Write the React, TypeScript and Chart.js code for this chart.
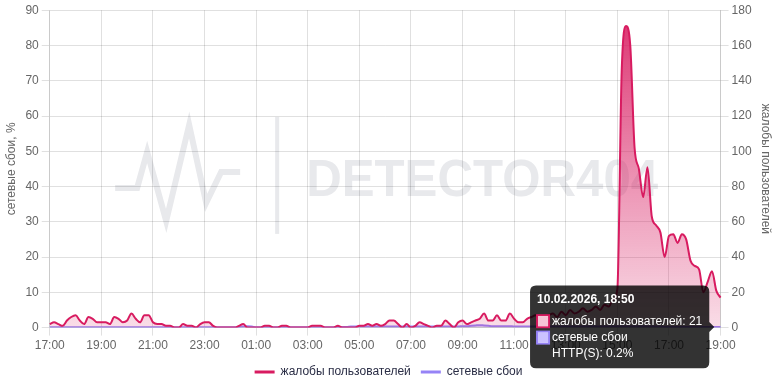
import React, { useEffect, useRef } from 'react';
import { Chart, registerables } from 'chart.js';

Chart.register(...registerables);

// ---- data ----
const START_UTC = Date.UTC(2026, 1, 9, 17, 0); // 09.02.2026 17:00
const STEP_MINUTES = 10;
const TICK_EVERY = 12; // one label every 2 hours

const SERIES_COMPLAINTS = 'жалобы пользователей';
const SERIES_NETWORK = 'сетевые сбои';
const LEFT_TITLE = 'сетевые сбои, %';
const RIGHT_TITLE = 'жалобы пользователей';
const NETWORK_PREFIX = 'HTTP(S)';

const LEFT_TICKS = [0, 10, 20, 30, 40, 50, 60, 70, 80, 90];
const RIGHT_TICKS = [0, 20, 40, 60, 80, 100, 120, 140, 160, 180];

const complaints = [
  2, 3, 2, 1, 4, 6, 7, 4, 2, 6,
  5, 3, 3, 3, 2, 6, 5, 3, 4, 8,
  5, 3, 7, 7, 3, 2, 2, 1, 1, 0,
  0, 2, 1, 1, 0, 2, 3, 3, 1, 0,
  0, 0, 0, 0, 1, 2, 0, 0, 0, 0,
  1, 1, 0, 0, 1, 1, 0, 0, 0, 0,
  0, 1, 1, 1, 0, 0, 0, 1, 0, 0,
  0, 0, 1, 1, 2, 1, 2, 1, 2, 4,
  4, 2, 0, 2, 0, 1, 3, 2, 1, 0,
  1, 1, 4, 2, 0, 3, 4, 2, 3, 4,
  5, 8, 4, 4, 7, 4, 4, 8, 5, 3,
  3, 5, 6, 7, 5, 6, 7, 8, 6, 9,
  7, 10, 8, 9, 11, 9, 10, 12, 10, 13,
  12, 16, 22, 145, 171, 160, 102, 90, 74, 91,
  63, 58, 54, 40, 52, 53, 48, 53, 50, 38,
  35, 33, 20, 26, 32, 21, 17,
];

const networkFailures = [
  0.1, 0.1, 0.1, 0.1, 0.1, 0.1, 0.1, 0.1, 0.1, 0.1,
  0.1, 0.1, 0.1, 0.1, 0.1, 0.1, 0.1, 0.1, 0.1, 0.1,
  0.1, 0.1, 0.1, 0.1, 0.1, 0.1, 0.1, 0.1, 0.1, 0.1,
  0.1, 0.1, 0.1, 0.1, 0.1, 0.1, 0.1, 0.1, 0.1, 0.1,
  0.1, 0.1, 0.1, 0.1, 0.2, 0.3, 0.4, 0.3, 0.1, 0.1,
  0.1, 0.1, 0.1, 0.1, 0.1, 0.1, 0.1, 0.1, 0.1, 0.1,
  0.1, 0.1, 0.1, 0.1, 0.1, 0.1, 0.1, 0.1, 0.2, 0.2,
  0.3, 0.3, 0.3, 0.3, 0.3, 0.3, 0.3, 0.3, 0.3, 0.3,
  0.3, 0.3, 0.3, 0.3, 0.3, 0.3, 0.3, 0.3, 0.3, 0.3,
  0.3, 0.3, 0.3, 0.3, 0.3, 0.3, 0.4, 0.4, 0.5, 0.6,
  0.7, 0.6, 0.5, 0.4, 0.4, 0.4, 0.4, 0.4, 0.3, 0.3,
  0.3, 0.3, 0.3, 0.3, 0.3, 0.3, 0.3, 0.3, 0.3, 0.3,
  0.3, 0.3, 0.3, 0.3, 0.3, 0.3, 0.3, 0.3, 0.3, 0.3,
  0.3, 0.3, 0.3, 0.3, 0.3, 0.3, 0.3, 0.3, 0.3, 0.3,
  0.3, 0.3, 0.3, 0.2, 0.2, 0.2, 0.2, 0.2, 0.2, 0.2,
  0.2, 0.2, 0.2, 0.2, 0.2, 0.2, 0.2,
];

const HOVER_INDEX = 155; // 10.02.2026, 18:50

// ---- styles ----
const PINK = '#d81b60';
const PINK_LIGHT = '#f6c5d6';
const PURPLE = '#9683f6';
const PURPLE_LIGHT = '#cbc2ff';
const TICK_COLOR = '#666666';
const GRID_COLOR = 'rgba(0,0,0,0.12)';
const WATERMARK_COLOR = '#e8e9ec';

function pad(n: number) {
  return String(n).padStart(2, '0');
}

function buildStamps(n: number) {
  const out: { date: string; time: string }[] = [];
  for (let i = 0; i < n; i++) {
    const d = new Date(START_UTC + i * STEP_MINUTES * 60000);
    out.push({
      date: `${pad(d.getUTCDate())}.${pad(d.getUTCMonth() + 1)}.${d.getUTCFullYear()}`,
      time: `${pad(d.getUTCHours())}:${pad(d.getUTCMinutes())}`,
    });
  }
  return out;
}

const watermarkPlugin = {
  id: 'watermark',
  beforeDraw(chart: any) {
    const a = chart.chartArea;
    if (!a) return;
    const ctx = chart.ctx as CanvasRenderingContext2D;
    const cx = (a.left + a.right) / 2;
    const cy = (a.top + a.bottom) / 2;
    ctx.save();
    ctx.strokeStyle = WATERMARK_COLOR;
    ctx.fillStyle = WATERMARK_COLOR;
    ctx.lineWidth = 6;
    ctx.lineJoin = 'miter';
    const pts = [
      [-270, 19], [-248, 19], [-238, -17], [-219, 52], [-196, -44],
      [-179, 34], [-164, 3], [-145, 3],
    ];
    ctx.beginPath();
    pts.forEach(([x, y], i) => (i === 0 ? ctx.moveTo(cx + x, cy + y) : ctx.lineTo(cx + x, cy + y)));
    ctx.stroke();
    ctx.fillRect(cx - 110, cy - 52, 4, 117);
    ctx.font = 'bold 52px Arial, "Liberation Sans", sans-serif';
    ctx.textBaseline = 'alphabetic';
    ctx.textAlign = 'left';
    ctx.fillText('DETECTOR404', cx - 79, cy + 27, 352);
    ctx.restore();
  },
};

export default function App() {
  const canvasRef = useRef<HTMLCanvasElement | null>(null);

  useEffect(() => {
    const canvas = canvasRef.current;
    if (!canvas) return;
    const stamps = buildStamps(Math.max(complaints.length, networkFailures.length, TICK_EVERY * 13 + 1));
    const labels = stamps.map((s) => s.time);

    Chart.defaults.font.family = 'Arial, "Liberation Sans", Helvetica, sans-serif';
    Chart.defaults.font.size = 12;
    Chart.defaults.color = TICK_COLOR;

    const chart = new Chart(canvas, {
      type: 'line',
      data: {
        labels,
        datasets: [
          {
            label: SERIES_COMPLAINTS,
            data: complaints,
            yAxisID: 'yR',
            borderColor: PINK,
            borderWidth: 2,
            pointRadius: 0,
            pointHoverRadius: 0,
            cubicInterpolationMode: 'monotone',
            fill: 'origin',
            backgroundColor: (ctx: any) => {
              const a = ctx.chart.chartArea;
              if (!a) return 'rgba(216,27,96,0.3)';
              const g = ctx.chart.ctx.createLinearGradient(0, a.top, 0, a.bottom);
              g.addColorStop(0, 'rgba(216,27,96,0.9)');
              g.addColorStop(0.5, 'rgba(216,27,96,0.5)');
              g.addColorStop(1, 'rgba(216,27,96,0.15)');
              return g;
            },
          },
          {
            label: SERIES_NETWORK,
            data: networkFailures,
            yAxisID: 'yL',
            borderColor: PURPLE,
            borderWidth: 2,
            pointRadius: 0,
            pointHoverRadius: 0,
            cubicInterpolationMode: 'monotone',
            fill: 'origin',
            backgroundColor: 'rgba(150,131,246,0.25)',
          },
        ],
      },
      options: {
        animation: false,
        responsive: true,
        maintainAspectRatio: false,
        interaction: { mode: 'index', intersect: false },
        layout: { padding: { top: 0, right: 0, left: 0, bottom: 0 } },
        scales: {
          x: {
            ticks: {
              autoSkip: false,
              maxRotation: 0,
              color: TICK_COLOR,
              callback: (_v: any, i: number) => (i % TICK_EVERY === 0 ? labels[i] : null),
            },
            grid: { color: GRID_COLOR },
          },
          yL: {
            type: 'linear',
            position: 'left',
            min: LEFT_TICKS[0],
            max: LEFT_TICKS[LEFT_TICKS.length - 1],
            ticks: { stepSize: LEFT_TICKS[1] - LEFT_TICKS[0], color: TICK_COLOR },
            grid: { color: GRID_COLOR },
            title: { display: true, text: LEFT_TITLE, color: TICK_COLOR, font: { size: 12 } },
          },
          yR: {
            type: 'linear',
            position: 'right',
            min: RIGHT_TICKS[0],
            max: RIGHT_TICKS[RIGHT_TICKS.length - 1],
            ticks: { stepSize: RIGHT_TICKS[1] - RIGHT_TICKS[0], color: TICK_COLOR },
            grid: { drawOnChartArea: false, color: GRID_COLOR },
            title: { display: true, text: RIGHT_TITLE, color: TICK_COLOR, font: { size: 12 } },
          },
        },
        plugins: {
          legend: {
            position: 'bottom',
            labels: {
              usePointStyle: true,
              pointStyle: 'line',
              pointStyleWidth: 20,
              color: '#2a2d45',
              font: { size: 12 },
              generateLabels: (c: any) =>
                Chart.defaults.plugins.legend.labels.generateLabels(c).map((l: any) => ({
                  ...l,
                  lineWidth: 3,
                })),
            },
          },
          tooltip: {
            enabled: true,
            mode: 'index',
            intersect: false,
            position: 'nearest',
            backgroundColor: 'rgba(0,0,0,0.8)',
            titleColor: '#fff',
            bodyColor: '#fff',
            titleFont: { size: 12, weight: 'bold' },
            bodyFont: { size: 12 },
            titleMarginBottom: 7,
            padding: 7,
            cornerRadius: 6,
            caretSize: 5,
            boxPadding: 1,
            callbacks: {
              title: (items: any[]) => {
                const s = stamps[items[0].dataIndex];
                return `${s.date}, ${s.time}`;
              },
              label: (item: any) =>
                item.datasetIndex === 0
                  ? `${item.dataset.label}: ${item.raw}`
                  : [item.dataset.label, `${NETWORK_PREFIX}: ${item.raw}%`],
              labelColor: (item: any) =>
                item.datasetIndex === 0
                  ? { borderColor: PINK, backgroundColor: PINK_LIGHT, borderWidth: 2 }
                  : { borderColor: PURPLE, backgroundColor: PURPLE_LIGHT, borderWidth: 2 },
            },
          },
        },
      },
      plugins: [watermarkPlugin],
    } as any);

    const pt: any = chart.getDatasetMeta(1).data[HOVER_INDEX];
    if (pt && chart.tooltip) {
      chart.tooltip.setActiveElements(
        [
          { datasetIndex: 0, index: HOVER_INDEX },
          { datasetIndex: 1, index: HOVER_INDEX },
        ],
        { x: pt.x, y: pt.y }
      );
      chart.update();
    }

    return () => chart.destroy();
  }, []);

  return (
    <div style={{ position: 'absolute', left: 0, top: 0, width: 777, height: 388 }}>
      <canvas ref={canvasRef} />
    </div>
  );
}
